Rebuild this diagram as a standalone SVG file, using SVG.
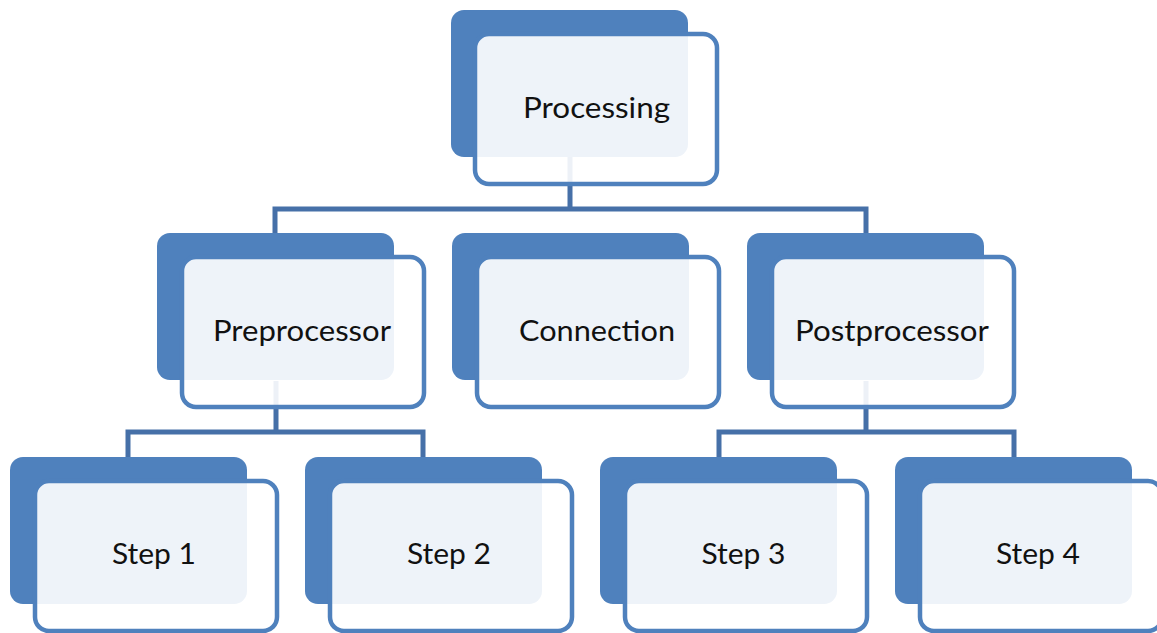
<svg xmlns="http://www.w3.org/2000/svg" width="1157" height="633" viewBox="0 0 1157 633">
<style>
.back{fill:#4F81BD;}
.front{fill:#FFFFFF;fill-opacity:0.9;stroke:#4F81BD;stroke-width:4.5;}
.conn{fill:none;stroke:#4670A8;stroke-width:5;}
.lbl{font-family:Lato,"Open Sans","Liberation Sans",sans-serif;font-size:29px;fill:#111111;text-anchor:middle;}
</style>
<rect width="1157" height="633" fill="#FFFFFF"/>
<g id="connectors">
<path class="conn" d="M275,233 V209 H866 V233 M570,157 V209"/>
<path class="conn" d="M128,457 V432 H423 V457 M276,381 V432"/>
<path class="conn" d="M719,457 V432 H1014 V457 M866,381 V432"/>
</g>
<g id="processing">
<rect class="back" x="451" y="10" width="237" height="147" rx="13"/>
<rect class="front" x="475" y="34" width="242" height="150" rx="14"/>
<text class="lbl" x="596.5" y="118" textLength="147" lengthAdjust="spacingAndGlyphs">Processing</text>
</g>
<g id="preprocessor">
<rect class="back" x="157" y="233" width="237" height="147" rx="13"/>
<rect class="front" x="182" y="257" width="242" height="150" rx="14"/>
<text class="lbl" x="302" y="341" textLength="178" lengthAdjust="spacingAndGlyphs">Preprocessor</text>
</g>
<g id="connection">
<rect class="back" x="452" y="233" width="237" height="147" rx="13"/>
<rect class="front" x="477" y="257" width="242" height="150" rx="14"/>
<text class="lbl" x="597" y="341" textLength="156" lengthAdjust="spacingAndGlyphs">Connection</text>
</g>
<g id="postprocessor">
<rect class="back" x="747" y="233" width="237" height="147" rx="13"/>
<rect class="front" x="772" y="257" width="242" height="150" rx="14"/>
<text class="lbl" x="892" y="341" textLength="194" lengthAdjust="spacingAndGlyphs">Postprocessor</text>
</g>
<g id="step1">
<rect class="back" x="10" y="457" width="237" height="147" rx="13"/>
<rect class="front" x="35" y="481" width="242" height="150" rx="14"/>
<text class="lbl" x="154" y="564" textLength="84" lengthAdjust="spacingAndGlyphs">Step 1</text>
</g>
<g id="step2">
<rect class="back" x="305" y="457" width="237" height="147" rx="13"/>
<rect class="front" x="330" y="481" width="242" height="150" rx="14"/>
<text class="lbl" x="449" y="564" textLength="84" lengthAdjust="spacingAndGlyphs">Step 2</text>
</g>
<g id="step3">
<rect class="back" x="600" y="457" width="237" height="147" rx="13"/>
<rect class="front" x="625" y="481" width="242" height="150" rx="14"/>
<text class="lbl" x="743.5" y="564" textLength="84" lengthAdjust="spacingAndGlyphs">Step 3</text>
</g>
<g id="step4">
<rect class="back" x="895" y="457" width="237" height="147" rx="13"/>
<rect class="front" x="920" y="481" width="242" height="150" rx="14"/>
<text class="lbl" x="1038" y="564" textLength="84" lengthAdjust="spacingAndGlyphs">Step 4</text>
</g>
</svg>
